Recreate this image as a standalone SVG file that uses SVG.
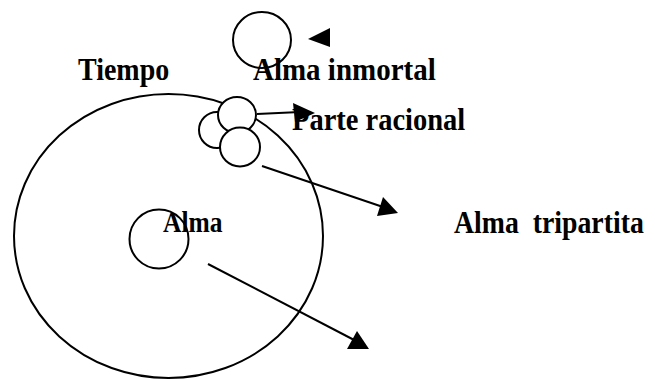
<svg xmlns="http://www.w3.org/2000/svg" width="655" height="379" viewBox="0 0 655 379">
<style>
.s{fill:none;stroke:#000;stroke-width:2}
.w{fill:#fff;stroke:#000;stroke-width:2}
.t{font-family:"Liberation Serif","Times New Roman",serif;font-weight:bold;font-size:28px;fill:#000;white-space:pre}
.h{fill:#000;stroke:none}
</style>
<rect width="655" height="379" fill="#fff"/>
<g id="tiempo-ring"><ellipse class="s" cx="168.5" cy="236" rx="154.5" ry="142"/></g>
<g id="alma"><ellipse class="s" cx="159" cy="239" rx="29.5" ry="29.5"/><text class="t" transform="translate(163,232) scale(1,1.12)" style="font-size:25.5px">Alma</text></g>
<g id="alma-inmortal"><ellipse class="s" cx="262" cy="40" rx="29" ry="28"/><text class="t" transform="translate(253,80) scale(1,1.12)" style="font-size:29px">Alma inmortal</text></g>
<g id="tiempo"><text class="t" transform="translate(78,80) scale(1,1.12)">Tiempo</text></g>
<g id="tripartita">
<ellipse class="w" cx="217" cy="130" rx="18" ry="18"/>
<ellipse class="w" cx="237" cy="115" rx="19" ry="18"/>
<ellipse class="w" cx="240" cy="147" rx="20" ry="19.5"/>
</g>
<g id="parte-racional"><text class="t" transform="translate(292,130) scale(1,1.12)" style="font-size:28.5px">Parte racional</text></g>
<g id="alma-tripartita"><text class="t" transform="translate(454,233) scale(1,1.12)" style="font-size:27.8px">Alma  tripartita</text></g>
<g id="connectors">
<polygon class="h" points="308,39 330,28 330,47"/>
<line class="s" x1="257" y1="114" x2="300" y2="112"/>
<polygon class="h" points="293,103 315,113 295,122"/>
<line class="s" x1="262" y1="166" x2="386" y2="208"/>
<polygon class="h" points="383,197 377,216 398,213"/>
<line class="s" x1="208" y1="264" x2="358" y2="342"/>
<polygon class="h" points="357,331 347,349 369,349"/>
</g>
</svg>
